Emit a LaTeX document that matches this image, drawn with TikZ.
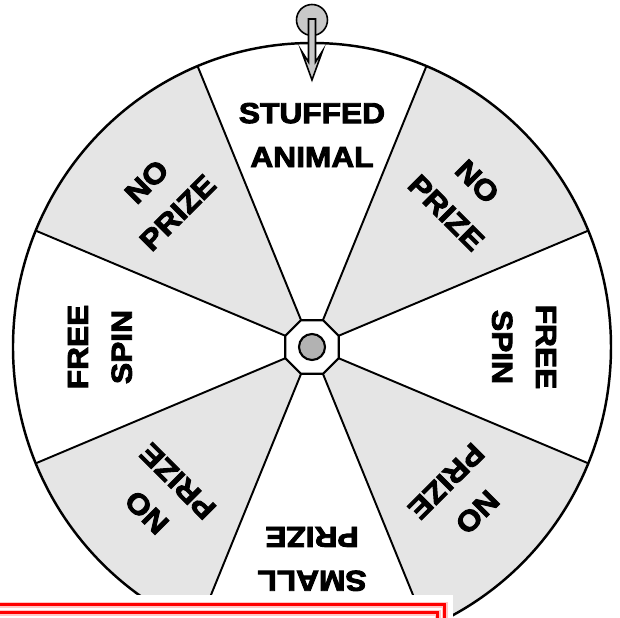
\documentclass[tikz,border=0pt]{standalone}
\usepackage{fontspec}
\usepackage{tikz}
\usetikzlibrary{shapes.geometric}
\newfontfamily\wheelfont{Liberation Sans}[BoldFeatures={FakeBold=3.2,FakeStretch=1.1}]
\definecolor{slotgray}{RGB}{229,229,229}
\definecolor{axlegray}{RGB}{178,178,178}
\definecolor{pingray}{RGB}{200,200,200}
\tikzset{
  rim/.style={line width=1.4pt},
  spoke/.style={line width=1.1pt},
  slot/.style={fill=slotgray},
  hub/.style={regular polygon,regular polygon sides=8,draw,line width=1.2pt,fill=white,minimum size=1.16cm,inner sep=0pt},
  axle/.style={circle,draw,line width=1.2pt,fill=axlegray,minimum size=0.52cm,inner sep=0pt},
  lbl/.style={font=\wheelfont\bfseries\fontsize{16.4}{25}\selectfont,align=center,inner sep=0pt},
  pin/.style={draw,line width=0.9pt,fill=pingray,line join=miter},
  redhalo/.style={line width=0.13cm,red!22},
  redcore/.style={line width=0.06cm,red},
  every picture/.style={x=0.02cm,y=0.02cm}
}
\begin{document}
\begin{tikzpicture}
  \useasboundingbox (-312,-271) rectangle (308,347);
  \coordinate (c) at (0,0);
  \coordinate (r1) at (22.5:299 and 304); \coordinate (r2) at (67.5:299 and 304); \coordinate (r3) at (112.5:299 and 304); \coordinate (r4) at (157.5:299 and 304);
  \coordinate (r5) at (202.5:299 and 304); \coordinate (r6) at (247.5:299 and 304); \coordinate (r7) at (292.5:299 and 304); \coordinate (r8) at (337.5:299 and 304);
  % grey slots
  \fill[slot] (c) -- (r1) arc[start angle=22.5,end angle=67.5,x radius=299,y radius=304] -- cycle;
  \fill[slot] (c) -- (r3) arc[start angle=112.5,end angle=157.5,x radius=299,y radius=304] -- cycle;
  \fill[slot] (c) -- (r5) arc[start angle=202.5,end angle=247.5,x radius=299,y radius=304] -- cycle;
  \fill[slot] (c) -- (r7) arc[start angle=292.5,end angle=337.5,x radius=299,y radius=304] -- cycle;
  \draw[spoke] (c) -- (r1); \draw[spoke] (c) -- (r2); \draw[spoke] (c) -- (r3); \draw[spoke] (c) -- (r4);
  \draw[spoke] (c) -- (r5); \draw[spoke] (c) -- (r6); \draw[spoke] (c) -- (r7); \draw[spoke] (c) -- (r8);
  \draw[rim] (c) ellipse[x radius=299,y radius=304];
  \node[hub] (hub) at (c) {}; \node[axle] (axle) at (c) {};
  % labels
  \node[lbl] (stuffed) at (90:212) {STUFFED\\ANIMAL};
  \node[lbl,rotate=45] (noprizeA) at (135:212) {NO\\PRIZE};
  \node[lbl,rotate=90] (freeA) at (180:212) {FREE\\SPIN};
  \node[lbl,rotate=135] (noprizeB) at (225:212) {NO\\PRIZE};
  \node[lbl,rotate=180] (small) at (270:212) {SMALL\\PRIZE};
  \node[lbl,rotate=-135] (noprizeC) at (315:212) {NO\\PRIZE};
  \node[lbl,rotate=-90] (freeB) at (0:212) {FREE\\SPIN};
  \node[lbl,rotate=-45] (noprizeD) at (45:212) {NO\\PRIZE};
  % pointer
  \node[pin,circle,minimum size=0.62cm,inner sep=0pt] (knob) at (0,327) {};
  \draw[pin] (-3.5,328) -- (-3.5,285) -- (-10.5,296) -- (0,267) -- (10.5,296) -- (3.5,285) -- (3.5,328) -- cycle;
  % answer box
  \fill[white] (-330,-248) rectangle (141,-290);
  \draw[redhalo] (-330,-258) -| (133,-290); \draw[redhalo] (-330,-266) -| (126,-290);
  \draw[redcore] (-330,-258) -| (133,-290); \draw[redcore] (-330,-266) -| (126,-290);
\end{tikzpicture}
\end{document}
